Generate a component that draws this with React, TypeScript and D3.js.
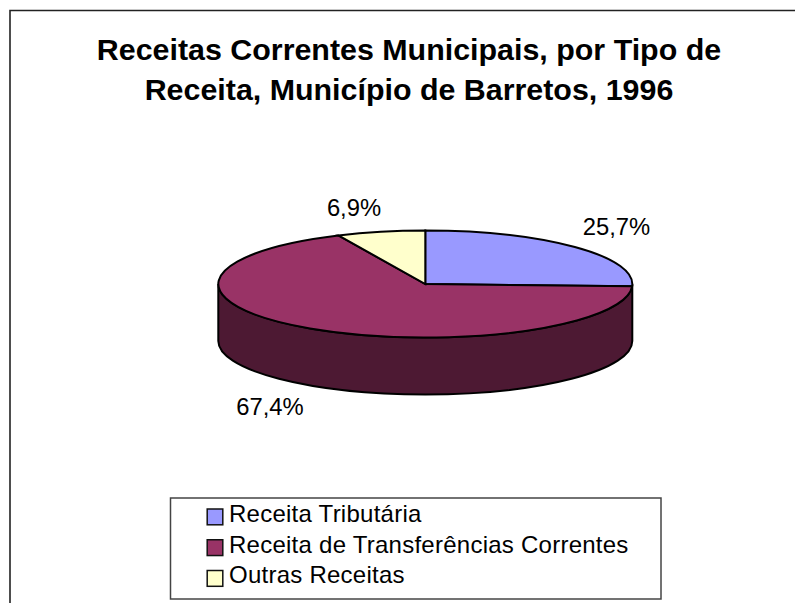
import * as d3 from 'd3';

const categories = ['Receita Tributária', 'Receita de Transferências Correntes', 'Outras Receitas'];
const values = [25.7, 67.4, 6.9];
const valueLabels = ['25,7%', '67,4%', '6,9%'];
const topColors = ['#9999ff', '#993366', '#ffffcc'];
const titleLines = ['Receitas Correntes Municipais, por Tipo de', 'Receita, Município de Barretos, 1996'];

const W = 795;
const H = 603;
const font = '"Liberation Sans", Arial, sans-serif';

// pie ellipse
const cx = 425.3;
const cy = 284;
const rx = 207;
const ry = 53.5;
const depth = 57;

const labelPos = [
  [616.5, 235],
  [270, 415],
  [354, 216],
];

const arcs = d3.pie<number>().sort(null)(values);
const arc = d3.arc<d3.PieArcDatum<number>>().innerRadius(0).outerRadius(rx);

// side of the cake, front half only
const wallPath =
  `M${cx - rx},${cy}L${cx - rx},${cy + depth}` +
  `A${rx},${ry} 0 0 0 ${cx + rx},${cy + depth}` +
  `L${cx + rx},${cy}` +
  `A${rx},${ry} 0 0 1 ${cx - rx},${cy}Z`;

const legendY = d3.scalePoint<string>().domain(categories).range([517, 578.5]);

export default function App() {
  return (
    <svg
      width={W}
      height={H}
      viewBox={`0 0 ${W} ${H}`}
      style={{ position: 'fixed', left: 0, top: 0, background: '#fff' }}
      fontFamily={font}
    >
      <path d={`M10,${H}V10.5H${W}`} fill="none" stroke="#222" strokeWidth={1.6} />
      {titleLines.map((t, i) => (
        <text key={t} x={409} y={60 + i * 40} textAnchor="middle" fontSize={30.4} fontWeight="bold" fill="#000">
          {t}
        </text>
      ))}

      <path d={wallPath} fill="#4d1933" stroke="#000" strokeWidth={2} />
      <g transform={`translate(${cx},${cy}) scale(1,${ry / rx})`}>
        {arcs.map((d, i) => (
          <path
            key={categories[i]}
            d={arc(d) as string}
            fill={topColors[i]}
            stroke="#000"
            strokeWidth={2}
            vectorEffect="non-scaling-stroke"
          />
        ))}
      </g>
      {valueLabels.map((t, i) => (
        <text key={t} x={labelPos[i][0]} y={labelPos[i][1]} textAnchor="middle" fontSize={23.8} fill="#000">
          {t}
        </text>
      ))}

      <rect x={170.5} y={498} width={490.5} height={101} fill="#fff" stroke="#444" strokeWidth={1.5} />
      {categories.map((c, i) => (
        <g key={c}>
          <rect
            x={207.2}
            y={(legendY(c) as number) - 8}
            width={15.6}
            height={15.8}
            fill={topColors[i]}
            stroke="#111"
            strokeWidth={1.5}
          />
          <text x={229} y={(legendY(c) as number) + 4.8} fontSize={24} letterSpacing={0.25} fill="#000">
            {c}
          </text>
        </g>
      ))}
    </svg>
  );
}
